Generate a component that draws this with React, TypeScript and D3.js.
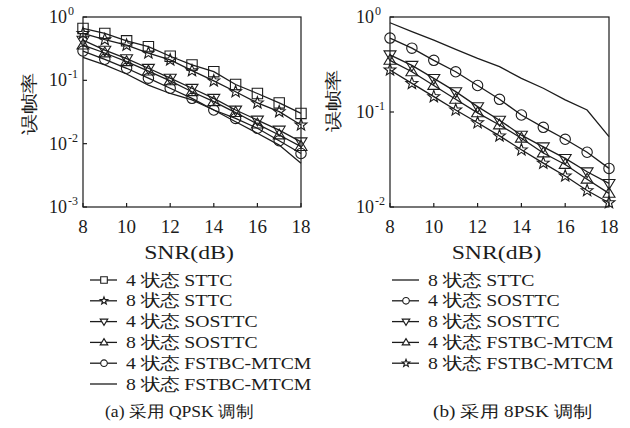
import React from 'react';
import * as d3 from 'd3';

// SNR (dB) on the x axis
const snr = [8, 9, 10, 11, 12, 13, 14, 15, 16, 17, 18];
const xTicks = [8, 10, 12, 14, 16, 18];

// (a) QPSK
const qpsk4Sttc = [0.66, 0.55, 0.42, 0.34, 0.24, 0.175, 0.137, 0.086, 0.062, 0.044, 0.030];
const qpsk8Sttc = [0.55, 0.44, 0.36, 0.27, 0.21, 0.142, 0.098, 0.066, 0.044, 0.032, 0.0197];
const qpsk4Sosttc = [0.43, 0.30, 0.22, 0.155, 0.108, 0.075, 0.052, 0.034, 0.0236, 0.0164, 0.0107];
const qpsk8Sosttc = [0.36, 0.27, 0.197, 0.14, 0.098, 0.066, 0.046, 0.031, 0.0204, 0.0137, 0.009];
const qpsk4Fstbc = [0.29, 0.215, 0.155, 0.108, 0.075, 0.052, 0.034, 0.025, 0.0175, 0.0111, 0.007];
const qpsk8Fstbc = [0.23, 0.175, 0.126, 0.084, 0.062, 0.049, 0.034, 0.0222, 0.0146, 0.0095, 0.0049];

// (b) 8PSK
const psk8Sttc8 = [0.87, 0.70, 0.57, 0.457, 0.367, 0.30, 0.226, 0.178, 0.134, 0.105, 0.055];
const psk4Sosttc = [0.60, 0.47, 0.35, 0.265, 0.19, 0.136, 0.093, 0.069, 0.0516, 0.0377, 0.0255];
const psk8Sosttc = [0.40, 0.31, 0.226, 0.164, 0.114, 0.082, 0.057, 0.043, 0.0325, 0.0235, 0.0177];
const psk4Fstbc = [0.35, 0.265, 0.19, 0.136, 0.098, 0.073, 0.053, 0.037, 0.028, 0.0196, 0.0139];
const psk8Fstbc = [0.277, 0.20, 0.145, 0.105, 0.077, 0.056, 0.040, 0.029, 0.0212, 0.0149, 0.0111];

const INK = '#1c1c1c';
const SERIF = 'Liberation Serif, Times New Roman, DejaVu Serif, serif';

type Mk = 'square' | 'star' | 'down' | 'up' | 'circle' | 'none';

const markerPath = (m: Mk, s: number) => {
  // s = half size
  if (m === 'square') return `M${-s},${-s}H${s}V${s}H${-s}Z`;
  if (m === 'circle') return `M${s},0A${s},${s} 0 1,1 ${-s},0A${s},${s} 0 1,1 ${s},0Z`;
  if (m === 'down') return `M${-s * 1.15},${-s * 0.75}H${s * 1.15}L0,${s * 1.15}Z`;
  if (m === 'up') return `M${-s * 1.15},${s * 0.75}H${s * 1.15}L0,${-s * 1.15}Z`;
  if (m === 'star') {
    const pts: string[] = [];
    for (let i = 0; i < 10; i++) {
      const r = i % 2 === 0 ? s * 1.2 : s * 0.5;
      const a = -Math.PI / 2 + (i * Math.PI) / 5;
      pts.push(`${(r * Math.cos(a)).toFixed(2)},${(r * Math.sin(a)).toFixed(2)}`);
    }
    return 'M' + pts.join('L') + 'Z';
  }
  return '';
};

type Series = { name: string; values: number[]; marker: Mk };

const qpskSeries: Series[] = [
  { name: '4 状态 STTC', values: qpsk4Sttc, marker: 'square' },
  { name: '8 状态 STTC', values: qpsk8Sttc, marker: 'star' },
  { name: '4 状态 SOSTTC', values: qpsk4Sosttc, marker: 'down' },
  { name: '8 状态 SOSTTC', values: qpsk8Sosttc, marker: 'up' },
  { name: '4 状态 FSTBC-MTCM', values: qpsk4Fstbc, marker: 'circle' },
  { name: '8 状态 FSTBC-MTCM', values: qpsk8Fstbc, marker: 'none' },
];

const pskSeries: Series[] = [
  { name: '8 状态 STTC', values: psk8Sttc8, marker: 'none' },
  { name: '4 状态 SOSTTC', values: psk4Sosttc, marker: 'circle' },
  { name: '8 状态 SOSTTC', values: psk8Sosttc, marker: 'down' },
  { name: '4 状态 FSTBC-MTCM', values: psk4Fstbc, marker: 'up' },
  { name: '8 状态 FSTBC-MTCM', values: psk8Fstbc, marker: 'star' },
];

// text stretched along its own direction (the source figure is widened)
const Txt = ({ x, y, sx = 1, rot = 0, size, anchor = 'start', children }:
  { x: number; y: number; sx?: number; rot?: number; size: number; anchor?: string; children: React.ReactNode }) => (
  <text transform={`translate(${x},${y}) rotate(${rot}) scale(${sx},1)`} fontSize={size} textAnchor={anchor} fill={INK}>
    {children}
  </text>
);

const Panel = ({ x0, x1, exps, series, yLabelX, yLabelY, legendX, caption, captionX, captionSx }:
  { x0: number; x1: number; exps: number[]; series: Series[]; yLabelX: number; yLabelY: number; legendX: number; caption: string; captionX: number; captionSx: number }) => {
  const top = 17, bottom = 207;
  const x = d3.scaleLinear().domain([8, 18]).range([x0, x1]);
  const y = d3.scaleLog().domain([Math.pow(10, exps[0]), Math.pow(10, exps[exps.length - 1])]).range([bottom, top]);
  const line = d3.line<number>().x((_, i) => x(snr[i])).y((d) => y(d));
  return (
    <g>
      <rect x={x0} y={top} width={x1 - x0} height={bottom - top} fill="none" stroke={INK} strokeWidth={1.2} />
      {xTicks.map((t) => (
        <g key={t}>
          <line x1={x(t)} x2={x(t)} y1={bottom} y2={bottom - 4} stroke={INK} strokeWidth={1.2} />
          <Txt x={x(t)} y={bottom + 26} size={19} anchor="middle">{t}</Txt>
        </g>
      ))}
      {exps.map((e) => (
        <g key={e}>
          <line x1={x0} x2={x0 + 4} y1={y(Math.pow(10, e))} y2={y(Math.pow(10, e))} stroke={INK} strokeWidth={1.2} />
          <text x={x0 - 16} y={y(Math.pow(10, e)) + 6} textAnchor="end" fontSize={18} fill={INK}>
            10
            <tspan dy={-8} fontSize={12} x={x0 - 15} textAnchor="start">{e}</tspan>
          </text>
        </g>
      ))}
      <Txt x={(x0 + x1) / 2 - 3} y={bottom + 52} size={19} sx={1.25} anchor="middle">SNR(dB)</Txt>
      <Txt x={yLabelX} y={yLabelY} rot={-90} size={17} sx={1.25} anchor="middle">误帧率</Txt>
      {series.map((s) => (
        <g key={s.name}>
          <path d={line(s.values) || ''} fill="none" stroke={INK} strokeWidth={1.3} />
          {s.marker !== 'none' && s.values.map((v, i) => (
            <path key={i} transform={`translate(${x(snr[i])},${y(v)})`} d={markerPath(s.marker, 5.2)} fill="none" stroke={INK} strokeWidth={1.1} />
          ))}
        </g>
      ))}
      {series.map((s, i) => {
        const ly = 280 + i * 20.8;
        return (
          <g key={'lg' + s.name}>
            <line x1={legendX - 14} x2={legendX + 13} y1={ly} y2={ly} stroke={INK} strokeWidth={1.3} />
            {s.marker !== 'none' && (
              <path transform={`translate(${legendX},${ly})`} d={markerPath(s.marker, 3.3)} fill="#fff" stroke={INK} strokeWidth={1.1} />
            )}
            <Txt x={legendX + 22} y={ly + 5.5} size={17} sx={1.16}>{s.name}</Txt>
          </g>
        );
      })}
      <Txt x={captionX} y={417} size={16} sx={captionSx}>{caption}</Txt>
    </g>
  );
};

const App = () => (
  <svg width={630} height={428} style={{ position: 'absolute', left: 0, top: 0, background: '#fff', fontFamily: SERIF }}>
    <rect width={630} height={428} fill="#fff" />
    <Panel x0={83} x1={301} exps={[-3, -2, -1, 0]} series={qpskSeries} yLabelX={35} yLabelY={104} legendX={104} caption="(a) 采用 QPSK 调制" captionX={105} captionSx={1.1} />
    <Panel x0={390} x1={609} exps={[-2, -1, 0]} series={pskSeries} yLabelX={339} yLabelY={101} legendX={406} caption="(b) 采用 8PSK 调制" captionX={433} captionSx={1.2} />
  </svg>
);

export default App;
